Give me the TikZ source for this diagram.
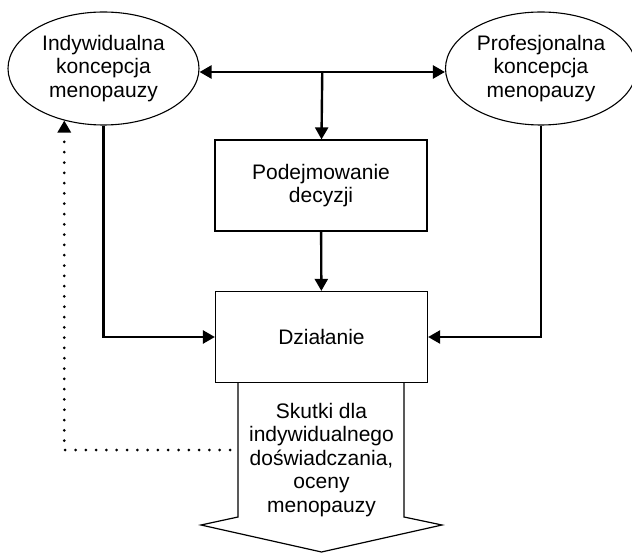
\documentclass[tikz,border=0pt]{standalone}
\usepackage{fontspec}
\setmainfont{Liberation Sans}
\usetikzlibrary{arrows.meta,shapes.geometric}

\tikzset{concept/.style = {ellipse,draw,line width=1.1pt,minimum width=191pt,minimum height=113pt,inner sep=0pt,align=center},
	box/.style = {draw,line width=1.2pt,minimum width=212pt,minimum height=91pt,align=center},
	conn/.style = {line width=2.4pt,-{Triangle[length=12pt,width=13pt]}},
	feedback/.style = {line width=3pt,line cap=round,dash pattern=on 0pt off 10.3pt,-{Triangle[length=12pt,width=13pt]}}}

\begin{document}
\begin{tikzpicture}[x=1pt,y=-1pt,font=\fontsize{21}{23.5}\selectfont]
	\useasboundingbox (0,0) rectangle (632,553);

	\node[concept] (indyw) at (103.5,68.5) {Indywidualna\\koncepcja\\menopauzy};
	\node[concept] (prof) at (541,68.5) {Profesjonalna\\koncepcja\\menopauzy};
	\node[box] (decyzja) at (321,185.5) {Podejmowanie\\decyzji};
	\node[box] (dzialanie) at (321.5,337) {Działanie};
	\node[align=center] (skutki) at (321.5,460) {Skutki dla\\indywidualnego\\doświadczania,\\oceny\\menopauzy};

	\draw[line width=1.2pt] (238,382) -- (238,517) -- (201,525) -- (321.5,552)
		-- (442,525) -- (404,517) -- (404,382);

	\draw[conn,{Triangle[length=12pt,width=13pt]}-{Triangle[length=12pt,width=13pt]}] ([yshift=-3.5pt]indyw.east) -- coordinate(split) ([yshift=-3.5pt]prof.west);
	\draw[conn] (split) -- (decyzja);
	\draw[conn] (decyzja) -- (dzialanie);
	\draw[conn] (indyw) |- (dzialanie);
	\draw[conn] (prof) |- (dzialanie);

	\coordinate (fb) at (230,450);
	\draw[feedback] (fb) -| (indyw.233);

\end{tikzpicture}
\end{document}
